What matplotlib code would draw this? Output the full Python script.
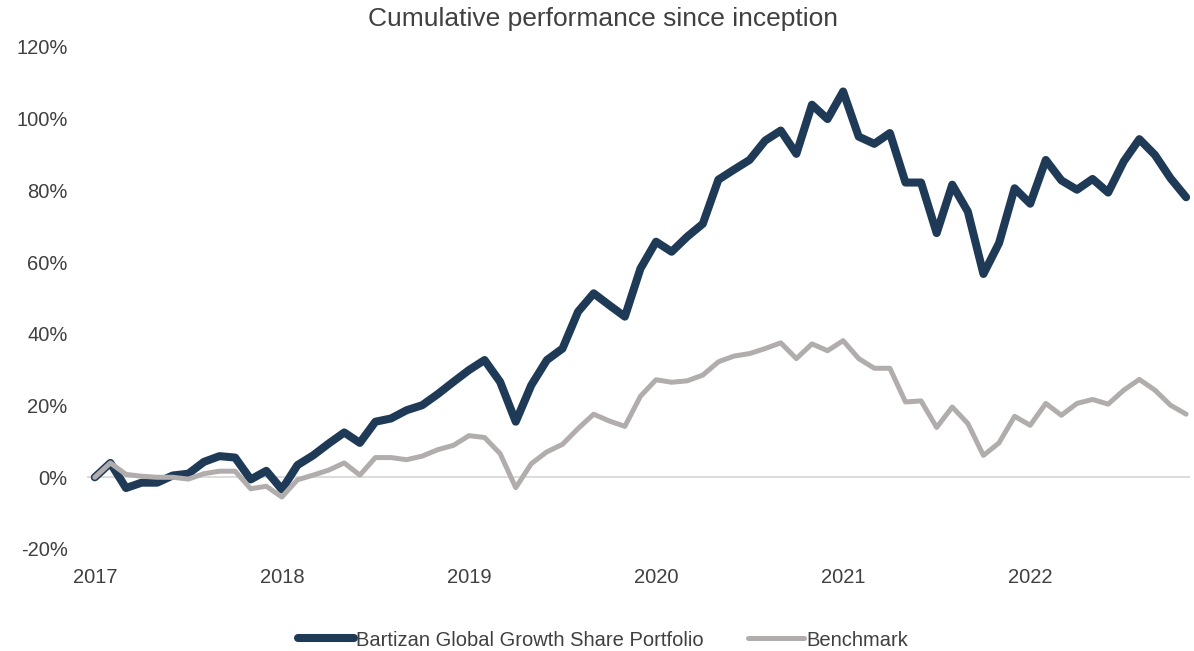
import matplotlib
matplotlib.use("Agg")
import matplotlib.pyplot as plt
import numpy as np

title = "Cumulative performance since inception"
series_names = ["Bartizan Global Growth Share Portfolio", "Benchmark"]
year_labels = ["2017", "2018", "2019", "2020", "2021", "2022"]
ytick_values = [-20, 0, 20, 40, 60, 80, 100, 120]

# Monthly cumulative returns (%), Jan 2017 .. Nov 2022
portfolio = [
    0.0, 4.0, -3.0, -1.5, -1.5, 0.5, 1.0, 4.3, 5.9, 5.5, -0.6, 1.8,
    -3.4, 3.4, 6.1, 9.4, 12.5, 9.6, 15.5, 16.4, 18.7, 20.1, 23.2, 26.6,
    29.9, 32.7, 26.6, 15.5, 25.7, 32.7, 35.9, 46.2, 51.3, 48.0, 44.8, 58.2,
    65.7, 62.9, 67.1, 70.7, 83.0, 85.8, 88.5, 93.9, 96.7, 90.2, 103.9, 99.9,
    107.6, 95.0, 93.0, 96.0, 82.2, 82.2, 68.1, 81.6, 74.1, 56.7, 65.3, 80.6,
    76.3, 88.5, 82.8, 80.2, 83.2, 79.4, 88.1, 94.3, 89.9, 83.4, 78.1,
]
benchmark = [
    0.0, 4.0, 0.8, 0.3, 0.0, 0.0, -0.5, 1.0, 1.7, 1.7, -3.2, -2.5,
    -5.5, -0.7, 0.6, 2.0, 4.0, 0.6, 5.5, 5.5, 4.9, 5.9, 7.7, 8.9,
    11.6, 11.1, 6.6, -2.9, 3.8, 7.1, 9.2, 13.6, 17.6, 15.7, 14.2, 22.6,
    27.2, 26.5, 26.9, 28.5, 32.2, 33.8, 34.5, 35.9, 37.5, 33.1, 37.2, 35.3,
    38.1, 33.1, 30.4, 30.4, 21.0, 21.3, 13.9, 19.6, 15.0, 6.1, 9.6, 17.0,
    14.5, 20.6, 17.3, 20.6, 21.7, 20.4, 24.3, 27.3, 24.3, 20.1, 17.6,
]

navy = "#1E3A56"
grey = "#B1ADAD"
text_color = "#404040"
font = "Liberation Sans"

fig = plt.figure(figsize=(11.94, 6.51), dpi=100)
ax = fig.add_axes([87 / 1194, 1 - 549 / 651, (1190 - 87) / 1194, (549 - 47) / 651])

months = np.arange(len(portfolio))
p = np.array(portfolio) / 100
b = np.array(benchmark) / 100

ax.axhline(0, color="#D9D9D9", lw=1.3, zorder=1)
ax.plot(months, p, color=navy, lw=5.8, solid_capstyle="round", solid_joinstyle="round",
        label=series_names[0], zorder=3)
ax.plot(months, b, color=grey, lw=3.6, solid_capstyle="round", solid_joinstyle="round",
        label=series_names[1], zorder=4)

ax.set_xlim(-0.5, 70.25)
ax.set_ylim(-0.2, 1.2)
ax.set_yticks([v / 100 for v in ytick_values])
ax.set_yticklabels([f"{v}%" for v in ytick_values])
ax.set_xticks(np.arange(len(year_labels)) * 12)
ax.set_xticklabels(year_labels)
ax.tick_params(length=0, labelsize=14.5, colors=text_color)
ax.tick_params(axis="x", pad=14)
ax.tick_params(axis="y", pad=14)
for lab in ax.get_xticklabels() + ax.get_yticklabels():
    lab.set_fontfamily(font)
for s in ax.spines.values():
    s.set_visible(False)

fig.text(603 / 1194, 1 - 19 / 651, title, ha="center", va="center", fontsize=19,
         color=text_color, family=font)

leg = fig.legend(loc="center", bbox_to_anchor=(603 / 1194, 1 - 640 / 651), ncol=2, frameon=False,
                 prop={"family": font, "size": 14.5}, handlelength=2.8,
                 handletextpad=0.1, columnspacing=2.2)
for t in leg.get_texts():
    t.set_color(text_color)

fig.savefig("out.png", dpi=100)
